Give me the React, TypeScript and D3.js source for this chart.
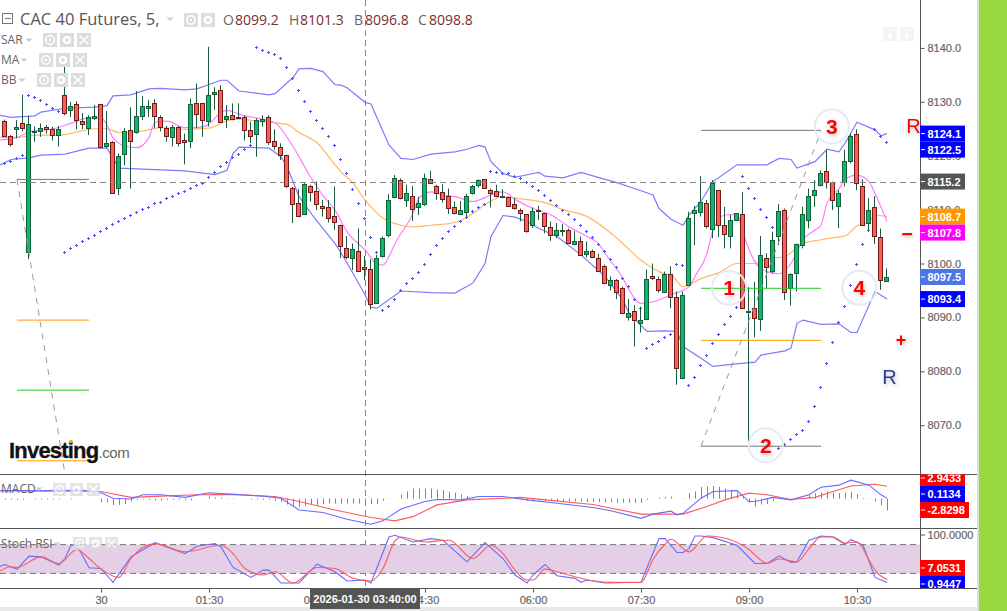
import { useEffect, useRef } from "react";
import * as d3 from "d3";

// candle index = minutes since 00:00 on the 30th / 5, first visible candle is -16
const FIRST_INDEX = -16;

const opens = [
  8126.4,8123.6,8125.0,8126.0,8102.1,8124.4,8124.6,8125.4,8124.9,8123.7,
  8131.2,8128.5,8129.5,8126.4,8125.0,8126.9,
  8129.5,8121.7,8122.5,8113.9,8120.3,8124.7,8124.3,8127.5,8129.0,8129.7,
  8127.1,8125.1,8123.6,8125.4,8122.9,8122.7,8129.7,8129.7,8126.4,8131.6,
  8132.1,8126.7,8127.5,8127.1,8127.1,8124.7,8124.1,8126.6,8127.1,8122.7,
  8121.7,8120.1,8114.1,8111.3,8109.1,8114.3,8113.4,8110.6,8110.4,8108.8,
  8107.1,8102.8,8101.0,8102.4,8099.3,8098.9,8092.8,8101.3,8105.2,8112.3,
  8115.4,8111.7,8112.6,8110.6,8111.0,8115.6,8114.3,8113.2,8112.5,8110.4,
  8109.1,8109.5,8113.0,8114.5,8115.6,8113.6,8113.4,8112.3,8112.3,8111.0,
  8109.9,8109.1,8107.1,8109.9,8109.3,8106.7,8105.2,8106.0,8106.2,8103.6,
  8104.1,8101.7,8102.3,8101.1,8099.5,8095.9,8096.9,8095.4,8090.1,8091.1,
  8089.1,8089.8,8097.6,8097.1,8094.7,8098.0,8093.7,8078.7,8096.0,8109.3,
  8109.7,8111.3,8106.3,8113.6,8107.1,8105.0,8108.0,8109.1,8090.9,8091.7,
  8089.6,8101.1,8098.5,8105.0,8110.0,8095.4,8098.2,8103.4,8108.0,8112.6,
  8114.5,8117.1,8115.2,8110.6,8115.1,8119.0,8124.1,8114.3,8107.6,8110.4,8104.9,8096.8,
];
const highs = [
  8126.7,8123.8,8126.6,8131.3,8127.4,8125.4,8126.0,8125.7,8125.4,8125.5,
  8136.8,8130.0,8130.1,8127.9,8127.5,8129.4,
  8129.6,8128.3,8122.7,8120.4,8125.1,8129.0,8132.0,8131.1,8130.3,8130.5,
  8127.5,8125.5,8125.7,8125.5,8124.1,8130.6,8133.4,8129.7,8140.2,8132.7,
  8133.1,8129.4,8129.7,8129.7,8127.5,8126.3,8126.9,8127.5,8127.5,8124.9,
  8122.3,8120.2,8114.2,8113.8,8114.9,8114.6,8115.2,8111.8,8111.8,8114.3,
  8107.2,8105.1,8103.7,8106.5,8101.4,8100.8,8101.6,8105.0,8112.9,8116.4,
  8115.8,8114.6,8114.4,8112.4,8116.7,8117.2,8114.6,8114.7,8113.9,8111.5,
  8111.6,8112.9,8114.6,8115.6,8115.6,8113.9,8114.6,8113.8,8112.4,8112.1,
  8110.2,8109.1,8110.4,8110.7,8109.3,8107.8,8107.5,8107.3,8106.5,8106.0,
  8105.0,8104.1,8102.6,8101.8,8099.8,8097.6,8097.1,8095.7,8093.4,8092.3,
  8092.0,8098.9,8100.0,8097.6,8098.5,8099.5,8094.8,8094.8,8109.6,8110.7,
  8116.2,8111.8,8115.5,8113.6,8110.5,8109.0,8109.3,8113.3,8095.6,8096.6,
  8105.1,8101.9,8105.9,8111.0,8110.2,8098.2,8103.7,8110.5,8113.9,8115.5,
  8117.3,8121.1,8115.2,8113.6,8121.1,8124.1,8124.9,8115.6,8112.1,8112.5,8106.5,8099.1,
];
const lows = [
  8123.5,8121.7,8123.2,8124.5,8100.8,8122.6,8123.5,8124.1,8122.8,8121.7,
  8127.5,8127.2,8124.9,8124.9,8123.8,8126.6,
  8121.4,8121.4,8112.9,8112.7,8118.2,8113.9,8124.1,8126.6,8127.2,8125.1,
  8124.5,8122.6,8121.7,8121.7,8118.4,8121.4,8125.1,8123.5,8125.4,8128.5,
  8126.1,8125.1,8126.6,8126.8,8122.8,8122.3,8119.8,8125.4,8122.0,8121.1,
  8119.2,8114.0,8107.5,8108.7,8109.0,8111.5,8109.9,8108.7,8107.6,8106.2,
  8101.0,8100.8,8098.8,8098.6,8096.9,8091.5,8092.8,8101.1,8104.9,8112.1,
  8111.9,8110.5,8107.9,8109.0,8110.7,8114.9,8111.8,8111.3,8109.2,8109.1,
  8109.0,8108.7,8112.8,8114.1,8113.9,8110.4,8112.3,8112.1,8110.5,8110.0,
  8107.8,8105.7,8106.6,8108.1,8105.6,8104.2,8104.7,8105.0,8103.6,8103.4,
  8101.4,8101.1,8101.0,8098.6,8096.2,8095.0,8093.4,8090.8,8089.4,8084.6,
  8087.2,8089.6,8096.9,8094.6,8094.5,8091.7,8077.5,8078.7,8096.0,8103.4,
  8108.7,8106.5,8104.7,8104.9,8102.8,8102.8,8107.9,8091.7,8066.0,8086.3,
  8087.5,8095.4,8098.2,8103.4,8093.2,8092.2,8094.8,8102.8,8106.5,8110.5,
  8114.3,8113.9,8109.9,8106.6,8114.3,8118.6,8113.6,8107.0,8106.1,8103.6,8095.1,8096.6,
];
const closes = [
  8123.7,8122.2,8125.4,8125.0,8125.8,8124.6,8125.1,8125.0,8123.7,8124.9,
  8127.8,8129.3,8126.6,8125.8,8127.1,8127.3,
  8121.6,8122.3,8113.0,8119.9,8124.5,8122.7,8127.3,8129.3,8129.3,8127.3,
  8125.3,8123.6,8125.4,8122.5,8122.5,8129.5,8127.7,8126.6,8131.2,8131.9,
  8126.2,8127.3,8126.7,8126.9,8124.7,8123.6,8126.7,8126.9,8122.5,8121.7,
  8120.3,8114.3,8111.2,8108.8,8114.7,8113.2,8111.0,8110.2,8108.4,8107.6,
  8103.2,8101.1,8102.6,8098.7,8098.9,8092.4,8101.1,8104.7,8111.7,8115.8,
  8112.1,8113.0,8110.2,8111.3,8115.8,8114.9,8113.0,8111.9,8110.2,8109.3,
  8109.9,8112.5,8114.3,8115.4,8113.9,8113.0,8112.5,8112.5,8110.6,8110.2,
  8109.3,8106.0,8109.7,8109.7,8106.9,8105.2,8106.2,8106.2,8103.7,8104.1,
  8101.5,8102.3,8101.1,8098.7,8096.3,8096.9,8094.7,8090.8,8090.9,8089.5,
  8089.6,8097.2,8097.2,8095.0,8098.0,8093.7,8080.6,8094.1,8108.4,8109.9,
  8111.5,8107.1,8114.9,8107.1,8105.4,8108.0,8109.3,8091.7,8091.1,8089.8,
  8101.5,8099.5,8104.3,8109.7,8094.8,8098.0,8103.6,8109.1,8112.5,8113.6,
  8116.7,8115.1,8111.9,8113.0,8119.0,8123.6,8115.1,8107.1,8110.0,8105.0,8096.9,8097.5,
];

// parabolic SAR, one value per candle
const sarValues = [
  8118.6,8119.1,8119.5,8120.1,8131.3,8130.8,8130.3,8129.5,8128.9,8128.3,
  8102.1,8102.8,8103.4,8104.1,8104.7,8105.3,
  8106.0,8106.5,8107.3,8107.9,8108.4,8109.0,8109.6,8110.1,8110.5,8111.2,
  8111.5,8112.2,8112.5,8113.0,8113.5,8114.0,8114.5,8114.9,8116.0,8116.9,
  8118.0,8118.8,8119.8,8120.4,8121.2,8121.9,8140.1,8139.7,8139.3,8138.9,
  8138.1,8136.5,8134.4,8132.2,8130.1,8128.3,8126.6,8125.1,8123.7,8122.0,
  8119.3,8116.7,8113.9,8111.2,8108.4,8104.9,8102.2,8091.3,8092.2,8093.5,
  8095.0,8096.3,8097.4,8098.5,8100.0,8101.7,8103.4,8104.8,8106.0,8107.0,
  8107.9,8108.7,8109.7,8110.4,8111.0,8117.1,8116.9,8116.7,8116.7,8116.3,
  8115.8,8115.1,8114.4,8113.6,8112.8,8111.7,8110.8,8109.9,8109.1,8108.2,
  8107.1,8106.0,8104.9,8103.7,8102.3,8100.8,8099.3,8097.4,8095.9,8093.5,
  8091.7,8084.4,8085.0,8085.6,8086.3,8086.9,8100.0,8099.7,8077.4,8078.9,
  8081.1,8083.1,8085.2,8087.0,8088.7,8090.3,8091.9,8116.2,8114.1,8112.1,
  8110.2,8108.6,8106.7,8065.8,8066.5,8067.4,8068.3,8069.1,8070.8,8073.6,
  8077.0,8081.5,8085.4,8089.1,8092.2,8096.0,8100.0,8103.6,8106.3,8124.9,8123.7,8122.5,
];

const bbUpper: [number, number][] = [
  [-17,8127.5],[-15,8127.1],[-11,8127.4],[-10,8128.1],[-6,8128.8],[-1,8129.0],[1,8129.3],[2,8131.1],[5,8131.3],[8,8132.4],
  [10,8132.5],[14,8132.2],[16,8132.4],[20,8134.0],[21,8134.0],[23,8132.0],[28,8131.3],[29,8131.5],[32,8134.5],[33,8136.1],
  [35,8136.2],[37,8135.6],[38,8134.4],[39,8133.2],[40,8133.1],[41,8132.6],[44,8129.9],[45,8129.6],[47,8124.5],[48,8122.0],
  [50,8119.5],[52,8119.3],[55,8120.3],[59,8120.7],[61,8121.2],[63,8121.9],[64,8121.6],[65,8118.9],[67,8116.7],[69,8116.0],
  [72,8116.7],[73,8116.9],[74,8116.2],[77,8115.9],[80,8116.9],[84,8115.6],[86,8115.0],[90,8113.5],[92,8112.7],[93,8110.2],
  [95,8108.2],[97,8107.1],[98,8109.0],[100,8111.5],[102,8115.2],[106,8118.3],[111,8118.3],[113,8119.5],[115,8119.3],[116,8117.7],
  [119,8118.9],[121,8121.2],[123,8120.7],[124,8122.3],[126,8126.2],[129,8124.8],[130,8123.7],[131,8124.1],
];
const bbLower: [number, number][] = [
  [-17,8118.2],[-15,8119.3],[-12,8119.6],[-10,8120.1],[-6,8120.3],[-2,8121.4],[1,8121.4],[3,8117.7],[14,8117.2],[19,8116.5],
  [21,8117.3],[22,8120.4],[23,8121.6],[28,8121.4],[30,8119.8],[31,8118.0],[32,8115.2],[33,8112.4],[35,8109.3],[39,8103.7],
  [40,8102.0],[42,8098.2],[44,8094.2],[45,8091.9],[46,8091.7],[50,8094.9],[55,8094.6],[59,8094.5],[62,8096.4],[64,8100.0],
  [65,8105.0],[67,8108.9],[69,8108.6],[71,8107.8],[73,8106.5],[76,8105.0],[80,8101.6],[84,8097.6],[87,8093.2],[88,8090.8],
  [91,8087.4],[94,8087.5],[96,8087.4],[97,8084.6],[100,8082.4],[102,8080.9],[105,8081.3],[109,8081.7],[110,8083.0],[114,8083.8],
  [115,8084.3],[116,8088.9],[117,8089.5],[120,8088.7],[123,8088.8],[125,8087.2],[126,8087.2],[129,8094.8],[131,8093.4],
];
const maFast: [number, number][] = [
  [-17,8122.9],[-14,8123.4],[-12,8124.4],[-8,8125.0],[-5,8126.0],[-2,8127.0],[0,8127.0],[1,8125.7],[2,8123.3],[4,8121.8],
  [6,8121.5],[8,8123.4],[9,8126.2],[11,8126.4],[14,8125.2],[16,8125.2],[18,8125.9],[20,8128.0],[21,8128.4],[23,8127.7],
  [27,8126.7],[29,8126.1],[32,8121.7],[35,8115.9],[37,8112.6],[39,8109.9],[41,8105.9],[44,8102.5],[46,8099.9],[47,8099.7],
  [48,8101.3],[49,8103.7],[52,8109.3],[53,8112.1],[55,8113.3],[57,8112.7],[59,8112.4],[62,8111.5],[65,8112.7],[67,8113.3],
  [69,8111.9],[72,8110.2],[75,8109.0],[78,8106.8],[81,8105.0],[83,8103.6],[84,8101.9],[87,8097.2],[88,8095.1],[90,8092.6],
  [92,8092.9],[95,8094.2],[98,8095.7],[99,8097.6],[101,8101.9],[102,8106.2],[104,8109.0],[106,8109.1],[107,8105.6],[109,8100.3],
  [111,8098.5],[113,8098.1],[115,8100.0],[117,8104.4],[119,8106.2],[120,8107.1],[121,8111.2],[123,8113.9],[124,8115.5],[125,8116.2],
  [126,8116.4],[128,8115.2],[129,8113.0],[131,8107.8],
];
const maSlow: [number, number][] = [
  [-17,8123.4],[-14,8123.4],[-11,8123.8],[-7,8123.8],[-4,8124.4],[-1,8125.0],[1,8125.0],[3,8124.3],[7,8124.6],[10,8125.2],
  [14,8124.9],[18,8125.1],[21,8126.5],[23,8126.8],[26,8126.4],[31,8125.8],[33,8124.3],[36,8122.4],[39,8118.3],[40,8117.0],
  [42,8114.9],[44,8111.8],[47,8108.4],[50,8107.1],[52,8106.8],[55,8107.1],[59,8107.6],[62,8109.3],[64,8110.9],[67,8112.4],
  [70,8112.0],[74,8111.3],[77,8110.0],[81,8108.7],[86,8104.7],[90,8100.6],[94,8098.1],[95,8097.9],[97,8095.7],[100,8097.2],
  [103,8098.3],[106,8100.0],[109,8100.0],[111,8100.8],[114,8101.3],[115,8102.0],[117,8103.7],[120,8104.4],[122,8104.8],[124,8105.1],
  [126,8107.0],[128,8107.7],[129,8109.0],[131,8108.7],
];

const macdLine: [number, number][] = [
  [-17,1.9],[-10,1.9],[-3,2.0],[0,1.4],[2,0.1],[5,-0.1],[7,0.9],[10,0.9],[14,0.3],[18,1.4],
  [22,1.0],[27,0.6],[30,0.1],[33,-2.7],[37,-3.3],[41,-4.9],[45,-6.1],[47,-5.3],[50,-2.5],[54,-0.7],
  [56,-0.2],[60,-0.3],[63,0.5],[67,0.5],[71,-0.3],[76,-1.1],[82,-2.1],[85,-2.9],[90,-4.7],[92,-3.7],
  [95,-3.0],[96,-3.9],[97,-3.5],[100,0.1],[102,1.7],[106,1.9],[108,-0.7],[109,-0.7],[112,0.3],[115,-0.3],
  [118,0.9],[120,2.7],[123,3.2],[125,4.4],[128,3.2],[130,0.9],[131,0.1134],
];
const macdSignal: [number, number][] = [
  [-17,1.9],[0,1.7],[5,0.3],[10,0.6],[16,0.9],[22,1.0],[29,0.5],[33,-0.7],[39,-2.7],[45,-4.5],
  [49,-5.3],[52,-4.3],[56,-1.5],[61,-0.3],[67,0.1],[70,0.3],[74,-0.3],[82,-1.4],[90,-3.7],[97,-3.7],
  [101,-1.9],[104,-0.3],[108,1.3],[111,0.9],[115,-0.2],[119,0.3],[122,1.7],[125,3.0],[129,3.4],[131,2.9433],
];
// MACD histogram, one value per candle
const macdHist = [
  -0.3,-0.3,-0.3,-0.3,0,-0.2,-0.2,-0.2,-0.2,-0.2,0,-0.2,0,0,0,0,
  -0.9,-0.9,-1.5,-1.5,-1.3,-0.7,-0.3,-0.2,-0.3,-0.4,-0.5,-0.3,-0.3,-0.3,-0.4,-0.4,0,0,
  0.5,0.3,0.3,0.1,0.1,0,0,
  -0.2,-0.2,-0.3,-0.3,-0.5,-0.8,-1.4,-1.8,-2.1,-1.8,-1.5,-1.5,-1.3,-1.2,-1.2,-1.2,-1.2,-1.2,-1.2,-1.2,-1.3,-1.3,-0.5,-0.1,0,
  1,1.7,2.4,2.4,2.4,2.4,2.2,2,1.6,1.4,1,0.6,0.2,0.1,0.1,0.2,0.2,
  -0.1,-0.1,-0.1,-0.1,
  -0.5,-0.5,-0.5,-0.5,-0.5,-0.6,-0.6,-0.7,-0.7,-0.7,-0.8,-0.8,-0.8,-0.9,-0.9,-1,-1,-1,-1,-1,
  -0.3,0,0.3,0.4,0.5,0,0.1,1.3,1.7,2.8,2.9,3,2.8,2.4,2.1,1.4,0.5,-1,-1.9,-1.4,-1.3,-0.5,0,0,-0.1,0,
  0.1,1.1,1.3,1.5,1.8,1.4,1.3,1.4,1.6,1.1,0.2,0.1,-0.7,-1.6,-2.8298,
];

const stochK: [number, number][] = [
  [-17,33.8],[-16,38.6],[-14,28.3],[-12,55.9],[-10,54.5],[-7,37.2],[-6,51],[-5,78.6],[-4,78.6],[-2,31.7],
  [0,30.3],[2,1.4],[5,54.5],[9,84],[14,61],[16,76.6],[19,82],[20,75],[22,32.4],[25,11.7],
  [27,26.9],[28,26.9],[30,0],[33,0],[36,39.3],[39,23.4],[41,4.1],[44,6.2],[45,0],[48,95.9],
  [49,99.3],[52,85.5],[55,92.4],[57,89],[61,44.1],[64,84.1],[67,51],[69,16.6],[71,0],[72,16.6],
  [74,38.6],[76,15.2],[79,9.7],[80,1.4],[81,6.2],[84,0],[90,1.4],[93,92.4],[94,92.4],[96,63.4],
  [97,63.4],[98,71.7],[99,97.9],[100,97.9],[102,94.5],[106,78.6],[109,40.7],[111,40.7],[113,56.6],[115,42.8],
  [116,44.1],[118,89],[120,97.9],[122,95.9],[124,80.7],[125,90.3],[127,78.6],[129,11.7],[131,0.9447],
];
const stochD: [number, number][] = [
  [-17,23.4],[-15,33.8],[-14,32.4],[-10,54.5],[-7,40.7],[-4,69.7],[-2,51],[0,29],[3,11.7],[5,51],
  [9,82],[14,64.8],[20,78.6],[22,61.4],[24,30.3],[27,16.6],[29,23.4],[32,0],[36,32.4],[39,30.3],
  [42,9.7],[45,4.1],[47,30.3],[49,87.6],[50,95.9],[54,85.5],[58,89],[62,51],[65,78.6],[67,61.4],
  [69,26.9],[71,6.2],[72,6.2],[74,29],[76,23.4],[79,13.1],[82,4.8],[85,1.4],[90,1.4],[92,49],
  [94,80.7],[95,91],[98,64.8],[101,97.9],[103,95.9],[108,69.7],[110,47.6],[111,40.7],[113,50.3],[116,44.1],
  [118,71.7],[120,95.9],[122,95.9],[124,83.4],[126,85.5],[128,47.6],[129,26.9],[131,7.0531],
];

const priceTicks = [8070, 8080, 8090, 8100, 8110, 8120, 8130, 8140];
const timeTickIndex = [0, 18, 36, 54, 72, 90, 108, 126];
const timeTickLabels = ["30", "01:30", "03:00", "04:30", "06:00", "07:30", "09:00", "10:30"];

const priceLabels: { value: number; color: string }[] = [
  { value: 8124.1, color: "#0000ff" },
  { value: 8122.5, color: "#0000ff" },
  { value: 8115.2, color: "#555555" },
  { value: 8108.7, color: "#ff9800" },
  { value: 8107.8, color: "#ff00ff" },
  { value: 8097.5, color: "#4f74e8" },
  { value: 8093.4, color: "#0000ff" },
];

// trader's drawings: [from index, to index, price, colour]
const levels: [number, number, number, string][] = [
  [-14, -2, 8115.6, "#777777"],
  [-14, -2, 8089.5, "#ff9800"],
  [-14, -2, 8076.5, "#22cc22"],
  [-14, -2, 8063.4, "#ff9800"],
  [100, 120, 8124.7, "#777777"],
  [100, 120, 8095.4, "#22cc22"],
  [100, 120, 8085.75, "#ff9800"],
  [100, 120, 8066.1, "#777777"],
];
const swings: [number, number, number, number][] = [
  [-14, 8115.6, -6, 8060.9],
  [100, 8066.1, 120, 8124.5],
];
const waveMarks: [string, number, number][] = [
  ["1", 104.67, 8095.5],
  ["2", 110.8, 8066.3],
  ["3", 121.8, 8125.4],
  ["4", 126.4, 8095.5],
];

const SANS = "'Liberation Sans', Arial, sans-serif";
const HEAD = "'Open Sans', sans-serif";

export default function App() {
  const svgRef = useRef<SVGSVGElement>(null);

  useEffect(() => {
    if (!svgRef.current) return;
    const svg = d3.select(svgRef.current);
    svg.selectAll("*").remove();

    const x = d3.scaleLinear().domain([0, 130]).range([101, 881]);
    const y = d3.scaleLinear().domain([8070, 8140]).range([425.2, 47.9]);
    const yMacd = d3.scaleLinear().domain([-5, 5]).range([519.6, 477.6]);
    const yStoch = d3.scaleLinear().domain([0, 100]).range([583, 535]);

    const defs = svg.append("defs");
    const clip = (id: string, top: number, h: number, w = 920) =>
      defs.append("clipPath").attr("id", id).append("rect").attr("x", 0).attr("y", top).attr("width", w).attr("height", h);
    clip("clip-main", 0, 474);
    clip("clip-macd", 474, 54);
    clip("clip-stoch", 528, 60);
    clip("clip-macd-lab", 474.5, 54, 1007);
    clip("clip-stoch-lab", 528.5, 59.5, 1007);
    const shadow = defs.append("filter").attr("id", "soft").attr("x", "-50%").attr("y", "-50%").attr("width", "200%").attr("height", "200%");
    shadow.append("feDropShadow").attr("dx", 1).attr("dy", 2).attr("stdDeviation", 2).attr("flood-color", "#000").attr("flood-opacity", 0.25);

    svg.append("rect").attr("width", 1007).attr("height", 611).attr("fill", "#fff");
    svg.append("rect").attr("x", 0).attr("y", 607).attr("width", 977).attr("height", 4).attr("fill", "#e8e8e8");
    svg.append("rect").attr("x", 977).attr("y", 0).attr("width", 2).attr("height", 611).attr("fill", "#dddddd");
    svg.append("rect").attr("x", 979).attr("y", 0).attr("width", 28).attr("height", 611).attr("fill", "#97d841");

    const drawLine = (
      g: d3.Selection<SVGGElement, unknown, null, undefined>,
      pts: [number, number][],
      yScale: d3.ScaleLinear<number, number>,
      color: string,
      curve: d3.CurveFactory = d3.curveLinear,
      width = 1.2,
    ) => {
      const line = d3.line<[number, number]>().x((d) => x(d[0])).y((d) => yScale(d[1])).curve(curve);
      g.append("path").attr("d", line(pts) ?? "").attr("fill", "none").attr("stroke", color).attr("stroke-width", width);
    };

    // main pane
    const main = svg.append("g").attr("clip-path", "url(#clip-main)");
    drawLine(main, bbUpper, y, "#7b7bff");
    drawLine(main, bbLower, y, "#7b7bff");
    drawLine(main, maSlow, y, "#ffb866", d3.curveMonotoneX);
    drawLine(main, maFast, y, "#ff7cff", d3.curveMonotoneX);

    // SAR crosses
    main.append("g").selectAll("path").data(sarValues).join("path")
      .attr("d", (d, i) => {
        const cx = x(i + FIRST_INDEX) - 0.5;
        const cy = Math.round(y(d)) + 0.5;
        return `M${cx - 1.5},${cy}H${cx + 1.5}M${cx},${cy - 1.5}V${cy + 1.5}`;
      })
      .attr("stroke", "#5050ff").attr("stroke-width", 1).attr("fill", "none");

    // candles
    const candles = main.append("g").selectAll("g").data(opens).join("g");
    candles.append("line")
      .attr("x1", (_, i) => x(i + FIRST_INDEX) - 0.5)
      .attr("x2", (_, i) => x(i + FIRST_INDEX) - 0.5)
      .attr("y1", (_, i) => y(highs[i]))
      .attr("y2", (_, i) => y(lows[i]))
      .attr("stroke", "#1b5a3c").attr("stroke-width", 1);
    candles.append("rect")
      .attr("x", (_, i) => x(i + FIRST_INDEX) - 2.5)
      .attr("width", 4)
      .attr("y", (d, i) => Math.round(y(Math.max(d, closes[i]))) + 0.5)
      .attr("height", (d, i) => Math.max(1, Math.round(Math.abs(y(d) - y(closes[i])))))
      .attr("fill", (d, i) => (closes[i] >= d ? "#0cb86a" : "#fb5f55"))
      .attr("stroke", (d, i) => (closes[i] >= d ? "#14603c" : "#701a1a"))
      .attr("stroke-width", 1);

    // last-price and crosshair guides
    const guides = svg.append("g").attr("stroke", "#888").attr("fill", "none");
    guides.append("line").attr("x1", 0).attr("x2", 920).attr("y1", Math.round(y(8115.2)) + 0.5).attr("y2", Math.round(y(8115.2)) + 0.5)
      .attr("stroke-dasharray", "6 4");
    guides.append("line").attr("x1", x(44) + 0.5).attr("x2", x(44) + 0.5).attr("y1", 0).attr("y2", 589).attr("stroke-dasharray", "6 4");

    // drawings
    const drawings = svg.append("g").attr("clip-path", "url(#clip-main)");
    drawings.selectAll("line.level").data(levels).join("line").attr("class", "level")
      .attr("x1", (d) => x(d[0])).attr("x2", (d) => x(d[1]))
      .attr("y1", (d) => y(d[2])).attr("y2", (d) => y(d[2]))
      .attr("stroke", (d) => d[3]).attr("stroke-width", 1);
    drawings.selectAll("line.swing").data(swings).join("line").attr("class", "swing")
      .attr("x1", (d) => x(d[0])).attr("y1", (d) => y(d[1]))
      .attr("x2", (d) => x(d[2])).attr("y2", (d) => y(d[3]))
      .attr("stroke", "#999").attr("stroke-width", 1).attr("stroke-dasharray", "6 6");

    const marks = svg.append("g");
    marks.selectAll("circle").data(waveMarks).join("circle")
      .attr("cx", (d) => x(d[1])).attr("cy", (d) => y(d[2])).attr("r", 17)
      .attr("fill", "none").attr("stroke", "#e3e9f5").attr("stroke-width", 2);
    marks.selectAll("text").data(waveMarks).join("text")
      .attr("x", (d) => x(d[1])).attr("y", (d) => y(d[2]) + 7.5)
      .attr("text-anchor", "middle").attr("font-family", SANS).attr("font-weight", 700).attr("font-size", 21)
      .attr("fill", "#ff0000").attr("filter", "url(#soft)")
      .text((d) => d[0]);

    const sign = (t: string, px: number, py: number, color: string, size: number, weight = 400) =>
      svg.append("text").attr("x", px).attr("y", py).attr("text-anchor", "middle").attr("font-family", SANS)
        .attr("font-size", size).attr("font-weight", weight).attr("fill", color).attr("filter", "url(#soft)").text(t);
    sign("R", 913.5, 133, "#ff0000", 20);
    sign("R", 889.5, 383.5, "#2a3a9a", 20);
    sign("\u2212", 907, 241, "#ff0000", 20, 700);
    sign("+", 901, 346, "#ff0000", 18, 700);

    // logo
    const logo = svg.append("text").attr("x", 9).attr("y", 458).attr("font-family", SANS).attr("fill", "#111");
    logo.append("tspan").attr("font-size", 22).attr("font-weight", 700).attr("letter-spacing", -0.8).attr("stroke", "#111").attr("stroke-width", 0.3).text("Investing");
    logo.append("tspan").attr("font-size", 15).attr("fill", "#666").attr("letter-spacing", -0.4).text(".com");
    svg.append("circle").attr("cx", 71).attr("cy", 441.5).attr("r", 1.8).attr("fill", "#f7a81b");

    // macd pane
    const macd = svg.append("g").attr("clip-path", "url(#clip-macd)");
    macd.append("g").selectAll("line")
      .data(macdHist.map((v, i) => ({ v, i: i + FIRST_INDEX })).filter((d) => d.v !== 0))
      .join("line")
      .attr("x1", (d) => x(d.i) + 0.5).attr("x2", (d) => x(d.i) + 0.5)
      .attr("y1", yMacd(0)).attr("y2", (d) => yMacd(d.v))
      .attr("stroke", "#f5555a").attr("stroke-width", 1);
    drawLine(macd, macdSignal, yMacd, "#ff5a5f", d3.curveLinear, 1.1);
    drawLine(macd, macdLine, yMacd, "#6a6aff", d3.curveLinear, 1.1);

    // stoch rsi pane
    const stoch = svg.append("g").attr("clip-path", "url(#clip-stoch)");
    stoch.append("rect").attr("x", 0).attr("width", 920)
      .attr("y", yStoch(80)).attr("height", yStoch(20) - yStoch(80)).attr("fill", "#e4cfe6");
    [80, 20].forEach((lvl) => {
      stoch.append("line").attr("x1", 0).attr("x2", 920).attr("y1", yStoch(lvl)).attr("y2", yStoch(lvl))
        .attr("stroke", "#777").attr("stroke-dasharray", "6 4");
    });
    drawLine(stoch, stochK, yStoch, "#6a6aff", d3.curveLinear, 1.1);
    drawLine(stoch, stochD, yStoch, "#ff5a5f", d3.curveMonotoneX, 1.1);

    // pane frames
    const frame = svg.append("g").attr("stroke", "#555");
    [474.5, 528.5, 588.5].forEach((py) => frame.append("line").attr("x1", 0).attr("x2", 977).attr("y1", py).attr("y2", py));
    frame.append("line").attr("x1", 920.5).attr("x2", 920.5).attr("y1", 0).attr("y2", 589);

    // right axis
    const axisY = svg.append("g").attr("transform", "translate(920.5,0)")
      .call(d3.axisRight(y).tickValues(priceTicks).tickFormat(d3.format(".1f")).tickSize(4).tickPadding(3));
    axisY.select(".domain").remove();
    axisY.selectAll("line").attr("stroke", "#555");
    axisY.selectAll("text").attr("font-family", SANS).attr("font-size", 11).attr("fill", "#666").attr("stroke", "#666").attr("stroke-width", 0.2);

    // bottom axis
    const axisX = svg.append("g").attr("transform", "translate(0,588.5)")
      .call(d3.axisBottom(x).tickValues(timeTickIndex)
        .tickFormat((_, i) => timeTickLabels[i]).tickSize(4).tickPadding(4));
    axisX.select(".domain").remove();
    axisX.selectAll("line").attr("stroke", "#555");
    axisX.selectAll("text").attr("font-family", SANS).attr("font-size", 11).attr("fill", "#666").attr("stroke", "#666").attr("stroke-width", 0.2);

    // price labels, stacked so they do not collide
    let prev = -Infinity;
    priceLabels.forEach((lab) => {
      const cy = Math.max(y(lab.value), prev + 16);
      prev = cy;
      const g = svg.append("g");
      g.append("rect").attr("x", 920).attr("y", cy - 8).attr("width", 45).attr("height", 16).attr("fill", lab.color);
      g.append("line").attr("x1", 921).attr("x2", 925).attr("y1", cy).attr("y2", cy).attr("stroke", "#fff");
      g.append("text").attr("x", 927.5).attr("y", cy + 4).attr("font-family", SANS).attr("font-size", 11)
        .attr("font-weight", 700).attr("fill", "#fff").text(lab.value.toFixed(1));
    });

    const paneLabel = (
      parent: d3.Selection<SVGGElement, unknown, null, undefined>,
      text: string, cy: number, color: string, w = 45,
    ) => {
      parent.append("rect").attr("x", 920).attr("y", cy - 8).attr("width", w).attr("height", 16).attr("fill", color);
      parent.append("line").attr("x1", 921).attr("x2", 925).attr("y1", cy).attr("y2", cy).attr("stroke", "#fff");
      parent.append("text").attr("x", 927.5).attr("y", cy + 4).attr("font-family", SANS).attr("font-size", 11)
        .attr("font-weight", 700).attr("fill", "#fff").text(text);
    };
    const macdLabels = svg.append("g").attr("clip-path", "url(#clip-macd-lab)");
    paneLabel(macdLabels, "2.9433", 478, "#ff0000");
    paneLabel(macdLabels, "0.1134", 494, "#0000ff");
    paneLabel(macdLabels, "-2.8298", 510, "#ff0000", 49);
    const stochLabels = svg.append("g").attr("clip-path", "url(#clip-stoch-lab)");
    stochLabels.append("line").attr("x1", 920.5).attr("x2", 925).attr("y1", yStoch(100)).attr("y2", yStoch(100)).attr("stroke", "#555");
    stochLabels.append("text").attr("x", 927.5).attr("y", yStoch(100) + 4).attr("font-family", SANS).attr("font-size", 11)
      .attr("fill", "#666").attr("stroke", "#666").attr("stroke-width", 0.2).text("100.0000");
    paneLabel(stochLabels, "7.0531", 568, "#ff0000");
    paneLabel(stochLabels, "0.9447", 584, "#0000ff");

    // crosshair time tag
    svg.append("rect").attr("x", 310).attr("y", 589).attr("width", 110).attr("height", 20).attr("fill", "#555");
    svg.append("text").attr("x", 365).attr("y", 603).attr("text-anchor", "middle").attr("font-family", SANS)
      .attr("font-size", 11).attr("font-weight", 700).attr("fill", "#fff").text("2026-01-30 03:40:00");

    // header and study legend
    const icons = (bx: number, by: number, size: number, gap: number, close: boolean, opacity = 1) => {
      const g = svg.append("g").attr("opacity", opacity);
      [0, 1, ...(close ? [2] : [])].forEach((k) => {
        const ox = bx + k * (size + gap);
        const c = size / 2;
        g.append("rect").attr("x", ox).attr("y", by).attr("width", size).attr("height", size).attr("fill", "#dcdcdc");
        if (k === 0) {
          g.append("circle").attr("cx", ox + c).attr("cy", by + c).attr("r", size * 0.3).attr("fill", "none").attr("stroke", "#fff").attr("stroke-width", 1.5);
          g.append("circle").attr("cx", ox + c).attr("cy", by + c).attr("r", 1.2).attr("fill", "#fff");
        } else if (k === 1) {
          g.append("circle").attr("cx", ox + c).attr("cy", by + c).attr("r", size * 0.22).attr("fill", "none").attr("stroke", "#fff").attr("stroke-width", 2.4);
        } else {
          g.append("path").attr("d", `M${ox + 2.5},${by + 2.5}L${ox + size - 2.5},${by + size - 2.5}M${ox + size - 2.5},${by + 2.5}L${ox + 2.5},${by + size - 2.5}`)
            .attr("stroke", "#fff").attr("stroke-width", 1.6);
        }
      });
    };
    const caret = (cx: number, cy: number) =>
      svg.append("path").attr("d", `M${cx - 3.5},${cy - 1.5}H${cx + 3.5}L${cx},${cy + 2}Z`).attr("fill", "#ccc");
    const hText = (t: string, px: number, py: number, size: number, color: string, family = HEAD) =>
      svg.append("text").attr("x", px).attr("y", py).attr("font-family", family).attr("font-size", size).attr("fill", color).text(t);

    svg.append("rect").attr("x", 2.5).attr("y", 13.5).attr("width", 10).attr("height", 10).attr("fill", "none").attr("stroke", "#777");
    svg.append("line").attr("x1", 5).attr("x2", 11).attr("y1", 18.5).attr("y2", 18.5).attr("stroke", "#777");
    hText("CAC 40 Futures, 5,", 20, 25, 16.5, "#555");
    caret(170, 19);
    icons(184, 13, 14, 3, false);
    hText("O", 223, 25, 14, "#666");
    hText("8099.2", 235, 25, 14, "#7a2e2e");
    hText("H", 289, 25, 14, "#666");
    hText("8101.3", 300, 25, 14, "#7a2e2e");
    hText("B", 354, 25, 14, "#666");
    hText("8096.8", 365, 25, 14, "#7a2e2e");
    hText("C", 418, 25, 14, "#666");
    hText("8098.8", 429, 25, 14, "#7a2e2e");

    hText("SAR", 1, 44, 12, "#666");
    caret(29, 40);
    icons(43, 33, 14, 3, true);
    hText("MA", 1, 64, 12, "#666");
    caret(24, 60);
    icons(39, 53, 14, 3, true);
    hText("BB", 1, 84, 12, "#666");
    caret(22, 80);
    icons(37, 73, 14, 3, true);
    hText("MACD", 1, 493, 12, "#666");
    caret(39, 489);
    icons(53, 483, 13, 4, true, 0.75);
    hText("Stoch RSI", 1, 548, 12, "#666");
    caret(57, 544);
    icons(73, 537, 13, 3, true, 0.75);

    // faint scale buttons
    [883, 900].forEach((bx) => {
      svg.append("rect").attr("x", bx).attr("y", 27).attr("width", 14).attr("height", 14).attr("fill", "#f4f4f4");
      svg.append("path").attr("d", `M${bx + 7},${30}V${38}M${bx + 4.5},${35.5}L${bx + 7},${38}L${bx + 9.5},${35.5}`)
        .attr("stroke", "#fff").attr("stroke-width", 1.5).attr("fill", "none");
    });
  }, []);

  return <svg ref={svgRef} width={1007} height={611} style={{ position: "absolute", left: 0, top: 0, display: "block" }} />;
}
